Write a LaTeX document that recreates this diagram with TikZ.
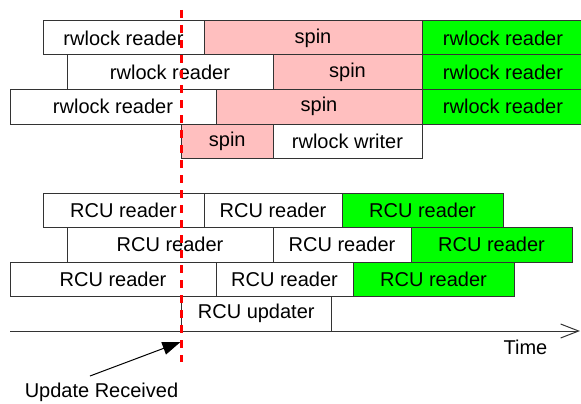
\documentclass[tikz,border=0pt]{standalone}
\usepackage{fontspec}
\setmainfont{Liberation Sans}
\usetikzlibrary{arrows.meta}
\definecolor{spinpink}{HTML}{FFBFBF}
\definecolor{okgreen}{HTML}{00FF00}
\definecolor{edge}{HTML}{333333}
\definecolor{markred}{HTML}{FF0000}
\newcommand{\bx}[7]{%
  \pgfmathsetmacro{\bw}{#3-#2}\pgfmathsetmacro{\bh}{#5-#4}%
  \node[box,fill=#6,minimum width=\bw pt,minimum height=\bh pt] (#1) at ({(#2+#3)/2},{(#4+#5)/2}) {#7};}
\begin{document}
\begin{tikzpicture}[x=1pt,y=-1pt,
  box/.style={draw=edge,line width=1pt,inner sep=0pt,outer sep=0pt,font=\fontsize{20}{24}\selectfont},
  lbl/.style={inner sep=0pt,font=\fontsize{20}{24}\selectfont},
  axis/.style={draw=edge,line width=1pt},
  updmark/.style={draw=markred,line width=2.2pt,dash pattern=on 8pt off 7pt}]
\useasboundingbox (0,0) rectangle (581,404);
\begin{scope}
\clip (0,0) rectangle (581,404);
% rwlock section
\bx{a1}{43}{204}{21}{55}{white}{rwlock reader}
\bx{a2}{204}{422}{21}{55}{spinpink}{spin}
\bx{a3}{422}{584}{21}{55}{okgreen}{rwlock reader}
\bx{b1}{67}{273}{55}{89}{white}{rwlock reader}
\bx{b2}{273}{422}{55}{89}{spinpink}{spin}
\bx{b3}{422}{584}{55}{89}{okgreen}{rwlock reader}
\bx{c1}{10}{216}{89}{124}{white}{rwlock reader}
\bx{c2}{216}{422}{89}{124}{spinpink}{spin}
\bx{c3}{422}{584}{89}{124}{okgreen}{rwlock reader}
\end{scope}
\bx{d1}{181.5}{273}{124}{158}{spinpink}{spin}
\bx{d2}{273}{422}{124}{158}{white}{rwlock writer}
% RCU section
\bx{e1}{43}{204}{193}{227}{white}{RCU reader}
\bx{e2}{204}{342}{193}{227}{white}{RCU reader}
\bx{e3}{342}{503}{193}{227}{okgreen}{RCU reader}
\bx{f1}{67}{273}{227}{262}{white}{RCU reader}
\bx{f2}{273}{411}{227}{262}{white}{RCU reader}
\bx{f3}{411}{572}{227}{262}{okgreen}{RCU reader}
\bx{g1}{10}{216}{262}{296}{white}{RCU reader}
\bx{g2}{216}{353}{262}{296}{white}{RCU reader}
\bx{g3}{353}{514}{262}{296}{okgreen}{RCU reader}
\bx{h1}{181.5}{331}{296}{331}{white}{RCU updater}
% time axis
\coordinate (t0) at (10,331);
\coordinate (t1) at (580,331);
\draw[axis,-{Straight Barb[length=18pt,width=14pt,line width=1pt]}] (t0) -- (t1);
\node[lbl] (time) at (525.5,347) {Time};
% update received
\node[lbl] (upd) at (101.5,392) {Update Received};
\coordinate (tail) at (90,376);
\coordinate (hit) at (180.5,342);
\draw[line width=1pt,-{Triangle[length=18pt,width=13pt]}] (tail) -- (hit);
% marker line
\coordinate (mtop) at (181.5,10);
\coordinate (mbot) at (181.5,362);
\draw[updmark] (mtop) -- (mbot);
\end{tikzpicture}
\end{document}
